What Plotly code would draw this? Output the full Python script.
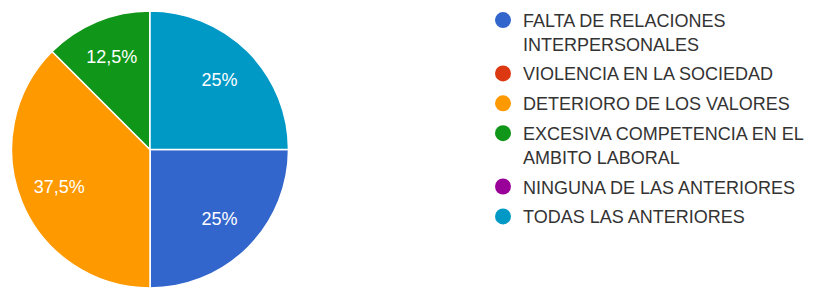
import plotly.graph_objects as go

categories = [
    "FALTA DE RELACIONES<br>INTERPERSONALES",
    "VIOLENCIA EN LA SOCIEDAD",
    "DETERIORO DE LOS VALORES",
    "EXCESIVA COMPETENCIA EN EL<br>AMBITO LABORAL",
    "NINGUNA DE LAS ANTERIORES",
    "TODAS LAS ANTERIORES",
]
values = [2, 0, 3, 1, 0, 2]
colors = ["#3366cc", "#dc3912", "#ff9900", "#109618", "#990099", "#0099c6"]

total = sum(values)
def fmt(v):
    if v == 0:
        return ""
    p = round(100 * v / total, 1)
    s = ("%g" % p).replace(".", ",")
    return s + "%"
texts = [fmt(v) for v in values]

W, H = 817, 288
domain = dict(x=[11 / W, 289 / W], y=[0, 1])
fig = go.Figure()
# filled pie
fig.add_trace(go.Pie(
    labels=categories, values=values,
    textinfo="none",
    sort=False, direction="clockwise", rotation=90,
    marker=dict(colors=colors, line=dict(color="white", width=1.5)),
    domain=domain, showlegend=False, hoverinfo="label+percent",
))
# transparent ring carrying the percentage labels further out
fig.add_trace(go.Pie(
    labels=categories, values=values, text=texts,
    textinfo="text", texttemplate="%{text}", hole=0.42,
    sort=False, direction="clockwise", rotation=90,
    marker=dict(colors=["rgba(0,0,0,0)"] * len(values), line=dict(width=0)),
    textfont=dict(family="Arial", size=18, color="white"),
    insidetextorientation="horizontal", textposition="inside",
    domain=domain, showlegend=False, hoverinfo="skip",
))
for i, (c, col) in enumerate(zip(categories, colors)):
    fig.add_trace(go.Scatter(
        x=[None], y=[None], mode="markers", name=c,
        marker=dict(color=col, size=18, symbol="circle"),
        legendgroup=str(i), showlegend=True,
    ))

fig.update_layout(
    width=W, height=H,
    margin=dict(l=0, r=0, t=11, b=0, autoexpand=False),
    paper_bgcolor="white", plot_bgcolor="white",
    xaxis=dict(visible=False), yaxis=dict(visible=False),
    legend=dict(
        x=483 / W, xanchor="left", y=1.0328, yanchor="top",
        font=dict(family="Arial", size=18, color="#333333"),
        valign="top", tracegroupgap=3.5, itemwidth=30, maxheight=288,
        bgcolor="rgba(0,0,0,0)",
    ),
)
fig.write_html("out.html", config={"displayModeBar": False},
               post_script="document.body.style.margin='0';")
